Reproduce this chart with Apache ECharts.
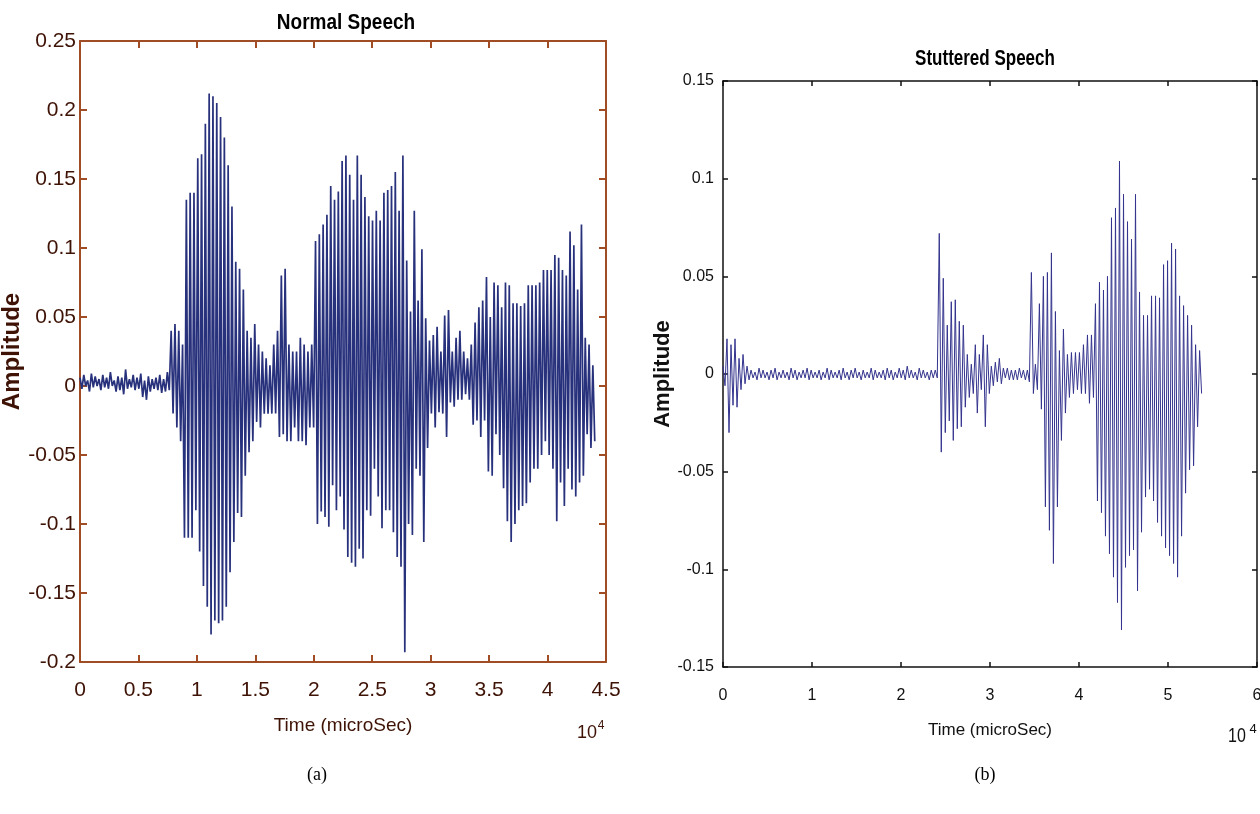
<!DOCTYPE html>
<html>
<head>
<meta charset="utf-8">
<title>Normal vs Stuttered Speech</title>
<script src="https://cdn.jsdelivr.net/npm/echarts@6/dist/echarts.min.js"></script>
<style>
  html, body { margin: 0; padding: 0; background: #fff; }
  #speech { width: 1260px; height: 814px; }
</style>
</head>
<body>
<div id="speech"></div>
<script>
// sample spacing, time axis is in units of 10^4 microSec
var normalStep = 0.0325;
// positive / negative peak of each sample
var normalTop = [
  0.006, 0.008, 0.004, 0.009, 0.007, 0.005, 0.008, 0.006, 0.010, 0.004,
  0.007, 0.006, 0.012, 0.005, 0.008, 0.006, 0.009, 0.004, 0.007, 0.005,
  0.006, 0.008, 0.005, 0.010,
  0.040, 0.045, 0.040, 0.030, 0.135, 0.140, 0.140, 0.165, 0.168, 0.190,
  0.212, 0.210, 0.205, 0.195, 0.180, 0.160, 0.130, 0.090, 0.085, 0.070,
  0.040, 0.035, 0.045, 0.030, 0.025, 0.020, 0.015, 0.030, 0.040, 0.080,
  0.085, 0.030, 0.025, 0.025, 0.035, 0.030, 0.025, 0.030, 0.105, 0.110,
  0.117, 0.124, 0.145, 0.135, 0.141, 0.163, 0.167, 0.153, 0.135, 0.167,
  0.153, 0.137, 0.123, 0.120, 0.127, 0.120, 0.140, 0.142, 0.145, 0.155,
  0.127, 0.167, 0.091, 0.054, 0.127, 0.062, 0.099, 0.049, 0.033, 0.037,
  0.043, 0.025, 0.051, 0.055, 0.025, 0.035, 0.040, 0.025, 0.020, 0.030,
  0.046, 0.057, 0.062, 0.079, 0.050, 0.075, 0.073, 0.057, 0.075, 0.073,
  0.060, 0.060, 0.058, 0.060, 0.073, 0.073, 0.073, 0.075, 0.084, 0.084,
  0.084, 0.095, 0.093, 0.084, 0.080, 0.112, 0.102, 0.070, 0.117, 0.035,
  0.030, 0.015
];
var normalBottom = [
  -0.002, 0.000, -0.004, -0.001, 0.000, -0.003, -0.001, -0.002, 0.000, -0.004,
  -0.003, -0.006, -0.002, -0.001, -0.003, -0.002, -0.008, -0.010, -0.004, -0.002,
  -0.003, -0.005, -0.004, -0.003,
  -0.020, -0.030, -0.040, -0.110, -0.110, -0.110, -0.090, -0.120, -0.145, -0.160,
  -0.180, -0.170, -0.172, -0.170, -0.160, -0.135, -0.113, -0.092, -0.095, -0.065,
  -0.048, -0.040, -0.026, -0.030, -0.020, -0.020, -0.020, -0.020, -0.037, -0.035,
  -0.040, -0.040, -0.030, -0.040, -0.040, -0.043, -0.030, -0.030, -0.100, -0.091,
  -0.095, -0.102, -0.072, -0.090, -0.080, -0.104, -0.124, -0.128, -0.131, -0.118,
  -0.125, -0.090, -0.094, -0.060, -0.080, -0.103, -0.090, -0.090, -0.106, -0.124,
  -0.131, -0.193, -0.100, -0.108, -0.060, -0.065, -0.113, -0.045, -0.020, -0.030,
  -0.019, -0.020, -0.037, -0.012, -0.015, -0.010, -0.010, -0.006, -0.010, -0.028,
  -0.025, -0.037, -0.025, -0.062, -0.065, -0.035, -0.050, -0.074, -0.098, -0.113,
  -0.100, -0.090, -0.087, -0.085, -0.070, -0.060, -0.060, -0.050, -0.040, -0.050,
  -0.060, -0.098, -0.070, -0.087, -0.060, -0.075, -0.080, -0.070, -0.065, -0.035,
  -0.045, -0.040
];

var stutterStep = 0.045;
var stutterTop = [
  0.004, 0.018, 0.015, 0.018, 0.008, 0.010, 0.004,
  // silent stretch
  0.002, 0.001, 0.003, 0.002, 0.001, 0.002, 0.003, 0.001, 0.002, 0.001,
  0.003, 0.002, 0.001, 0.002, 0.003, 0.002, 0.001, 0.002, 0.001, 0.003,
  0.002, 0.001, 0.002, 0.003, 0.001, 0.002, 0.003, 0.001, 0.002, 0.001,
  0.003, 0.002, 0.001, 0.002, 0.003, 0.002, 0.001, 0.003, 0.002, 0.004,
  0.002, 0.001, 0.003, 0.002, 0.001, 0.002,
  0.002,
  0.072, 0.049, 0.025, 0.037, 0.038, 0.027, 0.025, 0.010, 0.005, 0.015,
  0.010, 0.020, 0.015, 0.004, 0.006, 0.008, 0.003, 0.003, 0.002, 0.002,
  0.003, 0.002, 0.002, 0.052, 0.005, 0.036, 0.050, 0.052, 0.062, 0.032,
  0.012, 0.023, 0.010, 0.011, 0.011, 0.011, 0.015, 0.020, 0.020, 0.036,
  0.047, 0.043, 0.050, 0.080, 0.085, 0.109, 0.092, 0.078, 0.069, 0.092,
  0.042, 0.030, 0.030, 0.040, 0.040, 0.039, 0.056, 0.058, 0.067, 0.064,
  0.040, 0.035, 0.030, 0.025, 0.015, 0.012
];
var stutterBottom = [
  -0.006, -0.030, -0.016, -0.017, -0.008, -0.005, -0.003,
  -0.002, -0.003, -0.002, -0.002, -0.003, -0.002, -0.003, -0.002, -0.002, -0.003,
  -0.002, -0.003, -0.002, -0.002, -0.003, -0.002, -0.002, -0.003, -0.002, -0.003,
  -0.002, -0.002, -0.003, -0.002, -0.003, -0.002, -0.002, -0.003, -0.002, -0.002,
  -0.003, -0.002, -0.002, -0.003, -0.002, -0.003, -0.002, -0.002, -0.003, -0.002,
  -0.002, -0.003, -0.002, -0.002, -0.003, -0.002,
  -0.002,
  -0.040, -0.030, -0.024, -0.034, -0.028, -0.027, -0.017, -0.012, -0.010, -0.020,
  -0.008, -0.027, -0.010, -0.006, -0.004, -0.005, -0.002, -0.003, -0.003, -0.003,
  -0.002, -0.003, -0.004, -0.010, -0.008, -0.018, -0.068, -0.080, -0.097, -0.068,
  -0.034, -0.020, -0.012, -0.010, -0.008, -0.010, -0.010, -0.015, -0.012, -0.065,
  -0.071, -0.083, -0.092, -0.104, -0.117, -0.131, -0.099, -0.093, -0.090, -0.111,
  -0.081, -0.063, -0.059, -0.065, -0.076, -0.083, -0.089, -0.093, -0.097, -0.104,
  -0.083, -0.061, -0.049, -0.047, -0.027, -0.010
];

var sans = '"Liberation Sans", Arial, Helvetica, sans-serif';
var brown = '#a04c24';
var brownText = '#3e1306';

// each sample becomes a stroke from its positive peak down to its negative peak
function strokes(top, bottom, step) {
  var pts = [];
  var n = Math.min(top.length, bottom.length);
  for (var i = 0; i < n; i++) {
    pts.push([i * step, top[i]]);
    pts.push([i * step + step / 2, bottom[i]]);
  }
  return pts;
}

function fmt(v) { return String(+v.toFixed(2)); }

function axis(o) {
  return {
    type: 'value',
    gridIndex: o.grid,
    position: o.pos,
    min: o.min, max: o.max, interval: o.interval,
    name: o.name || '',
    nameLocation: 'middle',
    nameGap: o.nameGap,
    nameTextStyle: { fontFamily: sans, fontSize: o.nameSize, color: o.text, fontWeight: o.nameWeight || 'normal' },
    axisLine: { show: true, onZero: false, lineStyle: { color: o.color, width: o.width } },
    axisTick: { show: true, inside: true, length: o.tick, lineStyle: { color: o.color, width: o.width } },
    axisLabel: {
      show: !!o.labels, formatter: fmt, margin: o.margin,
      fontFamily: sans, fontSize: o.fontSize, color: o.text
    },
    splitLine: { show: false }
  };
}

var chart = echarts.init(document.getElementById('speech'));

var option = {
  backgroundColor: '#fff',
  animation: false,
  grid: [
    { left: 80, top: 41, width: 526, height: 621, outerBoundsMode: 'none', containLabel: false },
    { left: 723, top: 81, width: 534, height: 586, outerBoundsMode: 'none', containLabel: false }
  ],
  xAxis: [
    axis({ grid: 0, pos: 'bottom', min: 0, max: 4.5, interval: 0.5, color: brown, width: 2, tick: 7,
           labels: true, margin: 18, fontSize: 21, text: brownText,
           name: 'Time (microSec)', nameGap: 54, nameSize: 19 }),
    axis({ grid: 0, pos: 'top', min: 0, max: 4.5, interval: 0.5, color: brown, width: 2, tick: 7 }),
    axis({ grid: 1, pos: 'bottom', min: 0, max: 6, interval: 1, color: '#111', width: 1.5, tick: 5,
           labels: true, margin: 21, fontSize: 16, text: '#111',
           name: 'Time (microSec)', nameGap: 55, nameSize: 17 }),
    axis({ grid: 1, pos: 'top', min: 0, max: 6, interval: 1, color: '#111', width: 1.5, tick: 5 })
  ],
  yAxis: [
    axis({ grid: 0, pos: 'left', min: -0.2, max: 0.25, interval: 0.05, color: brown, width: 2, tick: 7,
           labels: true, margin: 4, fontSize: 21, text: brownText,
           name: 'Amplitude', nameGap: 41, nameSize: 24, nameWeight: 'bold' }),
    axis({ grid: 0, pos: 'right', min: -0.2, max: 0.25, interval: 0.05, color: brown, width: 2, tick: 7 }),
    axis({ grid: 1, pos: 'left', min: -0.15, max: 0.15, interval: 0.05, color: '#111', width: 1.5, tick: 5,
           labels: true, margin: 9, fontSize: 16, text: '#111',
           name: 'Amplitude', nameGap: 46, nameSize: 22, nameWeight: 'bold' }),
    axis({ grid: 1, pos: 'right', min: -0.15, max: 0.15, interval: 0.05, color: '#111', width: 1.5, tick: 5 })
  ],
  series: [
    {
      name: 'Normal Speech', type: 'line', xAxisIndex: 0, yAxisIndex: 0,
      data: strokes(normalTop, normalBottom, normalStep),
      symbol: 'none', lineStyle: { color: '#28317c', width: 1.7 }
    },
    {
      name: 'Stuttered Speech', type: 'line', xAxisIndex: 2, yAxisIndex: 2,
      data: strokes(stutterTop, stutterBottom, stutterStep),
      symbol: 'none', lineStyle: { color: '#34348e', width: 1 }
    }
  ],
  graphic: [
    { type: 'text', x: 346, y: 23, scaleY: 1.12, style: { text: 'Normal Speech', font: 'bold 19px ' + sans, fill: '#000', align: 'center', verticalAlign: 'middle' } },
    { type: 'text', x: 985, y: 59, scaleY: 1.3, style: { text: 'Stuttered Speech', font: 'bold 17px ' + sans, fill: '#000', align: 'center', verticalAlign: 'middle' } },
    { type: 'text', x: 587, y: 733, style: { text: '10', font: '18px ' + sans, fill: brownText, align: 'center', verticalAlign: 'middle' } },
    { type: 'text', x: 601, y: 726, style: { text: '4', font: '12px ' + sans, fill: brownText, align: 'center', verticalAlign: 'middle' } },
    { type: 'text', x: 1237, y: 736, scaleY: 1.25, style: { text: '10', font: '16px ' + sans, fill: '#111', align: 'center', verticalAlign: 'middle' } },
    { type: 'text', x: 1253, y: 729, style: { text: '4', font: '13px ' + sans, fill: '#111', align: 'center', verticalAlign: 'middle' } },
    { type: 'text', x: 317, y: 775, style: { text: '(a)', font: '18px "Liberation Serif", "Times New Roman", serif', fill: '#000', align: 'center', verticalAlign: 'middle' } },
    { type: 'text', x: 985, y: 775, style: { text: '(b)', font: '18px "Liberation Serif", "Times New Roman", serif', fill: '#000', align: 'center', verticalAlign: 'middle' } }
  ]
};

chart.setOption(option);
</script>
</body>
</html>
